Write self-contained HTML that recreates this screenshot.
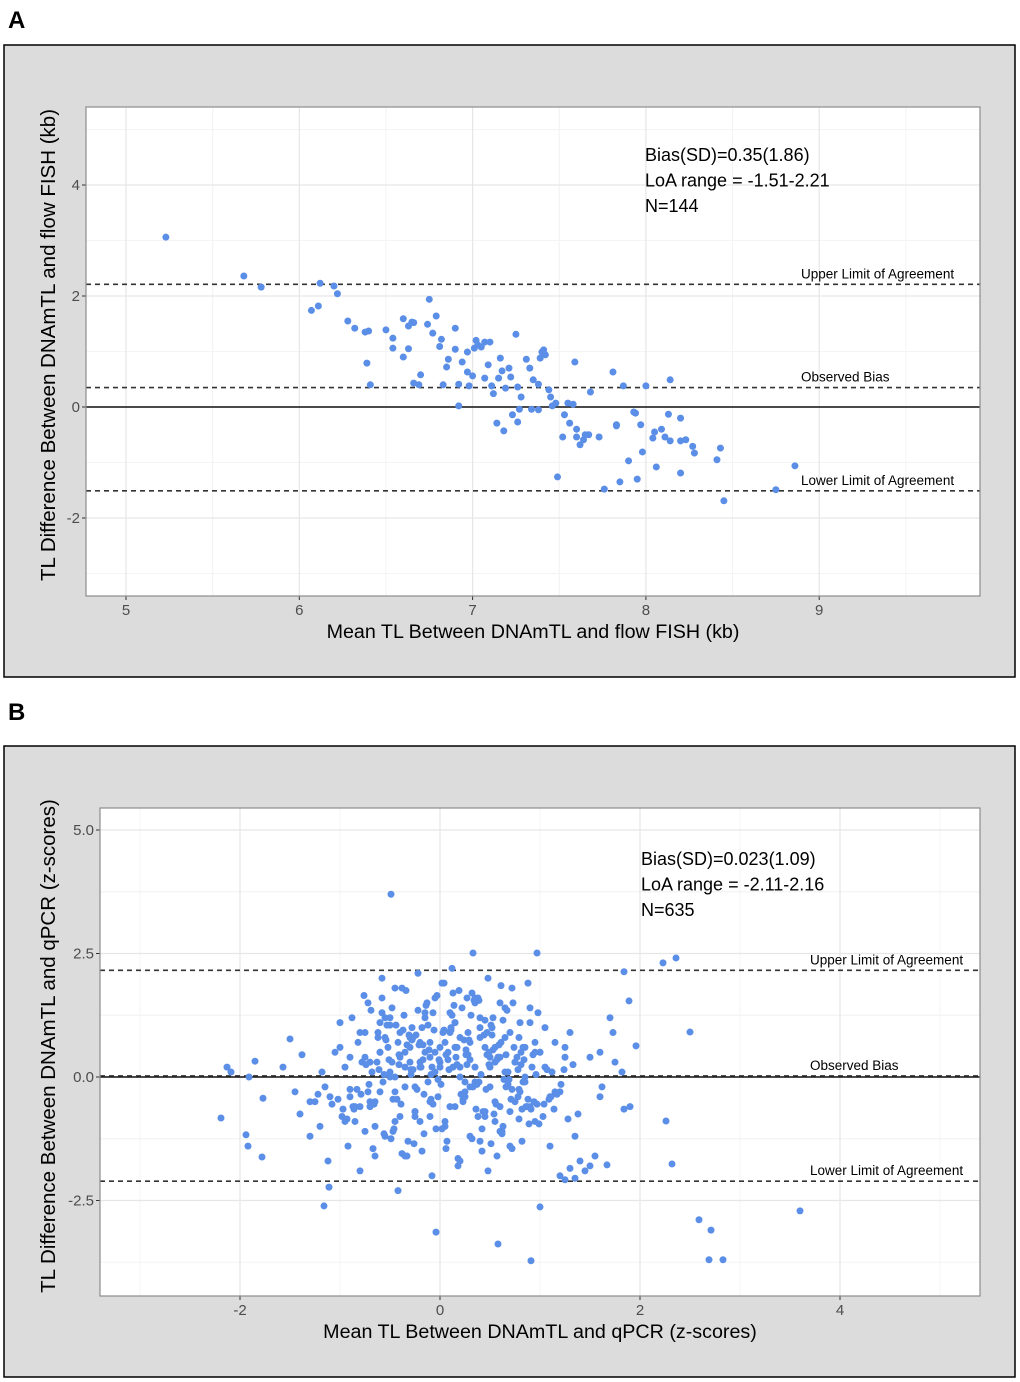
<!DOCTYPE html>
<html><head><meta charset="utf-8">
<style>
body{margin:0;background:#fff;width:1020px;height:1382px;overflow:hidden;font-family:"Liberation Sans",Arial,sans-serif}
svg{position:absolute;left:0;top:0}
</style></head>
<body>
<svg id="chart" width="1020" height="1382"></svg>
<script>
// ---------- Panel A data ----------
const aXTicks=[5,6,7,8,9];
const aYTicks=[-2,0,2,4];
const aBias=0.35, aUpper=2.21, aLower=-1.51;
const aX=[5.23,5.68,5.78,6.07,6.11,6.12,6.2,6.22,6.28,6.32,6.38,6.4,6.39,6.41,6.5,6.54,6.54,6.6,6.6,6.63,6.63,6.65,6.66,6.66,6.69,6.7,6.74,6.75,6.77,6.79,6.81,6.82,6.83,6.85,6.86,6.9,6.9,6.92,6.92,6.94,6.97,6.97,6.98,7.0,7.01,7.02,7.03,7.05,7.07,7.07,7.09,7.1,7.11,7.12,7.14,7.15,7.16,7.17,7.18,7.19,7.21,7.22,7.23,7.25,7.26,7.26,7.27,7.28,7.31,7.33,7.34,7.35,7.38,7.38,7.39,7.4,7.41,7.42,7.44,7.45,7.46,7.48,7.49,7.52,7.53,7.55,7.56,7.58,7.59,7.6,7.6,7.62,7.64,7.65,7.67,7.68,7.73,7.76,7.81,7.83,7.83,7.85,7.87,7.9,7.93,7.94,7.95,7.97,7.98,8.0,8.04,8.05,8.06,8.09,8.11,8.13,8.14,8.14,8.2,8.2,8.2,8.23,8.27,8.28,8.41,8.43,8.45,8.75,8.86];
const aY=[3.06,2.36,2.16,1.74,1.82,2.23,2.18,2.04,1.55,1.42,1.35,1.37,0.79,0.4,1.39,1.24,1.06,0.9,1.59,1.46,1.05,1.53,1.52,0.43,0.4,0.58,1.49,1.94,1.33,1.64,1.09,1.22,0.4,0.72,0.86,1.42,1.04,0.02,0.41,0.81,0.63,0.99,0.38,0.56,1.06,1.2,1.12,1.08,0.52,1.17,0.76,1.17,0.38,0.24,-0.29,0.52,0.88,0.65,-0.43,0.34,0.7,0.54,-0.14,1.31,-0.27,0.36,-0.04,0.18,0.86,0.7,-0.04,0.49,0.41,-0.05,0.88,0.99,1.03,0.94,0.31,0.18,0.02,0.07,-1.26,-0.54,-0.14,0.07,-0.29,0.05,0.81,-0.54,-0.4,-0.68,-0.59,-0.5,-0.5,0.27,-0.54,-1.48,0.63,-0.34,-0.32,-1.35,0.38,-0.97,-0.09,-0.11,-1.3,-0.32,-0.81,0.38,-0.56,-0.45,-1.08,-0.4,-0.54,-0.13,0.49,-0.61,-0.61,-0.2,-1.19,-0.59,-0.71,-0.83,-0.95,-0.74,-1.69,-1.49,-1.06];
// ---------- Panel B data ----------
const bXTicks=[-2,0,2,4];
const bYTicks=[-2.5,0,2.5,5];
const bBias=0.023, bUpper=2.16, bLower=-2.11;
const bX=[-0.49,-2.19,-2.13,-2.09,-1.94,-1.92,-1.85,-1.78,-1.77,-1.91,-1.57,-1.5,-1.16,-1.11,-0.04,0.58,0.91,1.0,0.33,0.97,2.23,2.36,2.5,2.26,2.32,2.59,2.69,2.71,2.83,3.6,1.82,1.84,1.9,1.96,1.89,1.84,1.73,1.67,1.55,1.2,1.3,1.4,1.45,1.5,1.25,1.35,1.6,1.7,1.75,1.62,
-1.45,-1.4,-1.38,-1.3,-1.25,-1.2,-1.18,-1.12,-1.1,-1.05,-1.0,-0.98,-0.95,-0.92,-0.9,-0.88,-0.85,-0.82,-0.8,-0.78,-0.75,-0.72,-0.7,-0.68,-0.65,-0.62,-0.6,-0.58,-0.55,-0.52,-0.5,-0.48,-0.45,-0.42,-0.4,-0.38,-0.35,-0.32,-0.3,-0.28,-0.25,-0.22,-0.2,-0.18,-0.15,-0.12,-0.1,-0.08,-0.05,-0.02,0.0,0.02,0.05,0.08,0.1,0.12,0.15,0.18,0.2,0.22,0.25,0.28,0.3,0.32,0.35,0.38,0.4,0.42,0.45,0.48,0.5,0.52,0.55,0.58,0.6,0.62,0.65,0.68,0.7,0.72,0.75,0.78,0.8,0.82,0.85,0.88,0.9,0.92,0.95,0.98,1.0,1.05,1.1,1.15,1.2,1.25,1.3,
-1.0,-0.9,-0.8,-0.7,-0.6,-0.5,-0.4,-0.3,-0.2,-0.1,0.0,0.1,0.2,0.3,0.4,0.5,0.6,0.7,0.8,0.9,1.0,1.1,-0.85,-0.75,-0.65,-0.55,-0.45,-0.35,-0.25,-0.15,-0.05,0.05,0.15,0.25,0.35,0.45,0.55,0.65,0.75,0.85,0.95,
-0.95,-0.72,-0.63,-0.42,-0.33,-0.18,-0.08,0.07,0.17,0.27,0.43,0.53,0.63,0.77,0.87,1.03,-0.58,-0.27,0.13,0.33,0.57,0.73,-0.87,-0.47,-0.13,0.03,0.23,0.47,0.83,1.12,
-0.6,-0.4,-0.2,0.0,0.2,0.4,0.6,-0.5,-0.3,-0.1,0.1,0.3,0.5,-0.7,-0.45,-0.25,-0.05,0.15,0.35,0.55,0.75,-0.65,-0.35,-0.15,0.25,0.45,0.65,0.95,1.15,1.35,1.5,1.6,
-0.2,0.6,-0.35,0.48,-0.9,0.9,-1.15,1.25,-0.55,0.15,-0.75,0.7,-0.1,0.4,-0.6,0.2,1.05,-1.3,-0.25,0.85,0.05,-0.45,0.55,-0.8,0.35,
-0.62,-0.57,-0.51,-0.44,-0.39,-0.33,-0.27,-0.22,-0.16,-0.11,-0.06,0.01,0.06,0.12,0.17,0.23,0.29,0.34,0.41,0.46,0.52,0.57,0.63,0.69,0.74,0.81,0.86,0.93,
-0.61,-0.54,-0.47,-0.41,-0.36,-0.29,-0.23,-0.17,-0.12,-0.07,-0.01,0.04,0.09,0.14,0.21,0.26,0.31,0.37,0.44,0.49,0.54,0.61,0.66,0.71,0.78,0.84,0.91,0.97,
-0.76,-0.69,-0.53,-0.46,-0.37,-0.24,-0.14,-0.03,0.08,0.19,0.28,0.39,0.51,0.59,0.67,0.79,0.89,1.07,1.17,1.28,
-0.74,-0.66,-0.56,-0.43,-0.31,-0.21,-0.09,0.02,0.11,0.24,0.36,0.47,0.56,0.68,0.79,0.88,0.99,1.09,1.21,1.33,
-1.02,-0.93,-0.86,-0.79,-0.67,-0.49,-0.38,-0.26,-0.16,-0.04,0.06,0.18,0.32,0.42,0.51,0.62,0.72,0.82,0.94,1.04,1.14,
-0.58,-0.48,-0.34,-0.19,-0.07,0.04,0.16,0.27,0.38,0.49,0.61,0.72,0.83,-0.5,-0.28,-0.09,0.11,0.3,0.45,0.64,0.79,
-1.22,-1.08,-0.97,-0.83,-0.71,-0.56,-0.41,-0.29,-0.17,-0.02,0.13,0.26,0.39,0.53,0.66,0.81,0.96,1.11,1.24,1.38];
const bY=[3.7,-0.83,0.2,0.1,-1.17,-1.4,0.32,-1.62,-0.43,0.0,0.2,0.77,-2.61,-2.23,-3.14,-3.38,-3.72,-2.63,2.51,2.51,2.31,2.41,0.91,-0.89,-1.76,-2.89,-3.7,-3.1,-3.7,-2.71,0.1,-0.65,-0.6,0.63,1.54,2.13,0.9,-1.78,-1.6,-2.0,-1.85,-1.7,-1.9,-1.8,-2.08,-2.05,0.5,1.2,0.3,-0.2,
-0.3,-0.75,0.45,-1.2,-0.5,-1.0,0.1,-1.7,-0.4,0.5,1.1,-0.8,0.2,-1.4,-0.25,1.2,-0.6,0.7,-1.9,0.3,-1.1,1.5,-0.5,0.1,-1.6,0.9,-0.3,2.0,-1.2,0.6,0.0,1.4,-0.9,-2.3,0.4,1.8,-0.2,-1.3,0.8,1.0,-0.7,2.1,0.2,-1.5,1.3,-0.1,0.7,-2.0,1.6,-0.4,0.3,1.9,-1.0,0.5,-0.6,2.2,1.1,-1.8,0.0,1.4,-0.3,0.9,-1.2,1.7,0.2,-0.8,1.2,-1.5,0.6,2.0,-0.2,1.0,-0.5,0.4,1.5,-1.1,0.8,0.1,-0.7,1.8,0.3,-0.4,1.1,-1.3,0.6,1.9,-0.6,0.2,-0.9,1.3,0.5,1.0,-1.4,0.7,-0.3,0.4,0.9,
0.6,-0.4,0.9,-0.6,0.5,1.2,-0.8,0.3,0.7,-0.5,0.2,1.3,0.8,-0.2,1.0,0.4,-0.6,0.9,-0.3,1.1,0.5,-0.4,-0.9,0.4,-1.0,0.8,-0.3,0.2,-0.7,0.5,0.1,-0.9,0.6,-0.1,1.5,-0.8,0.3,1.4,-0.5,0.0,0.7,
-0.9,-0.3,0.3,0.7,-1.6,1.0,0.2,-1.3,0.6,1.6,-0.7,1.2,-1.0,0.4,-0.6,-0.8,1.3,0.8,1.7,-0.2,-1.6,1.5,-0.6,-1.1,1.5,0.9,-0.5,0.9,-0.1,0.1,
0.5,0.9,0.3,0.6,0.2,0.8,0.4,0.1,0.6,0.4,0.9,0.7,0.2,0.3,0.0,-0.2,0.5,1.1,-0.1,0.6,0.3,-0.5,0.5,1.2,-0.4,-0.7,0.1,0.5,-0.3,-1.2,0.4,-0.4,
-0.9,-1.1,-1.6,-1.9,0.4,1.4,-0.2,0.6,1.2,-0.6,0.9,-1.4,-0.8,-1.3,1.1,-1.7,0.2,-0.5,-0.8,-0.1,0.7,1.8,-0.9,-0.6,1.6,
0.8,-0.1,0.35,1.05,-0.55,0.65,0.15,1.35,-0.35,0.55,0.95,-0.15,0.45,1.25,0.25,-0.45,0.75,1.55,0.05,-0.25,0.85,0.35,1.15,-0.05,0.6,0.25,-0.6,0.45,
0.15,0.75,-0.45,0.45,1.25,0.05,-0.25,0.65,1.05,-0.55,0.35,0.95,0.15,1.45,-0.35,0.55,1.25,-0.15,0.85,0.25,-0.75,0.7,0.45,-0.45,0.15,0.35,-0.65,-0.55,
1.65,1.35,1.05,-1.05,0.95,0.85,1.45,1.65,0.35,1.75,0.45,1.55,1.05,0.65,1.35,-0.25,-0.95,0.15,-0.35,-0.85,
0.25,-0.55,-1.15,-0.45,0.85,0.65,-0.45,-1.05,0.95,0.75,-0.65,0.45,-0.55,-0.15,-0.85,-0.45,-0.95,-0.45,-0.15,0.25,
-0.45,-0.85,-0.65,-0.35,-1.45,-1.25,-1.55,-1.35,-1.15,-1.05,-1.45,-1.65,-1.25,-1.05,-1.35,-1.15,-1.45,-0.65,-0.5,-0.55,-0.65,
1.6,0.3,1.75,0.2,1.3,1.9,0.4,0.25,1.6,0.5,1.85,-0.25,0.6,1.05,0.75,0.05,1.0,0.35,1.15,-0.05,0.8,
-0.35,-0.55,-0.65,-0.25,-0.15,0.05,0.25,0.15,0.35,-0.05,0.2,0.45,-0.1,0.55,-0.2,0.5,0.05,-0.4,0.15,-0.75,-0.45];

const NS='http://www.w3.org/2000/svg';
const svg=document.getElementById('chart');
function mk(tag,attrs,parent){const e=document.createElementNS(NS,tag);for(const k in attrs)e.setAttribute(k,attrs[k]);(parent||svg).appendChild(e);return e;}

function panel(o){
  const g=mk('g',{});
  
  
  const bg=mk('rect',{x:o.box[0],y:o.box[1],width:o.box[2],height:o.box[3],fill:'#dcdcdc',stroke:'#000','stroke-width':1.5},g);
  
  
  const lt=mk('text',{x:o.letter[0],y:o.letter[1],'font-size':24,'font-weight':'bold',fill:'#000'},g);
  lt.textContent=o.id.toUpperCase();
  
  
  const [L,T,R,B]=o.plot;
  const sx=v=>L+(v-o.xd[0])/(o.xd[1]-o.xd[0])*(R-L);
  const sy=v=>B-(v-o.yd[0])/(o.yd[1]-o.yd[0])*(B-T);
  mk('rect',{x:L,y:T,width:R-L,height:B-T,fill:'#fff'},g);
  for(let i=0;i<o.xt.length;i++){const step=o.xt[1]-o.xt[0];for(const v of [o.xt[i]-step/2,o.xt[i]+step/2]){if(v>o.xd[0]&&v<o.xd[1])mk('line',{x1:sx(v),x2:sx(v),y1:T,y2:B,stroke:'#f4f4f4','stroke-width':1},g);}}
  for(let i=0;i<o.yt.length;i++){const step=o.yt[1]-o.yt[0];for(const v of [o.yt[i]-step/2,o.yt[i]+step/2]){if(v>o.yd[0]&&v<o.yd[1])mk('line',{x1:L,x2:R,y1:sy(v),y2:sy(v),stroke:'#f4f4f4','stroke-width':1},g);}}
  o.xt.forEach(v=>{
    mk('line',{x1:sx(v),x2:sx(v),y1:T,y2:B,stroke:'#e6e6e6','stroke-width':1.2},g);
    mk('line',{x1:sx(v),x2:sx(v),y1:B,y2:B+4,stroke:'#333'},g);
    const t=mk('text',{x:sx(v),y:B+19,'font-size':15,fill:'#4d4d4d','text-anchor':'middle'},g);
    t.textContent=o.xl(v);
    
    
  });
  o.yt.forEach(v=>{
    mk('line',{x1:L,x2:R,y1:sy(v),y2:sy(v),stroke:'#e6e6e6','stroke-width':1.2},g);
    mk('line',{x1:L-4,x2:L,y1:sy(v),y2:sy(v),stroke:'#333'},g);
    const t=mk('text',{x:L-6,y:sy(v)+5,'font-size':15,fill:'#4d4d4d','text-anchor':'end'},g);
    t.textContent=o.yl(v);
    
    
  });
  const z=mk('line',{x1:L,x2:R,y1:sy(0),y2:sy(0),stroke:'#111','stroke-width':1.5},g);
  
  
  const refs=[[o.up,'Upper Limit of Agreement','upper-limit-line'],[o.bias,'Observed Bias','bias-line'],[o.lo,'Lower Limit of Agreement','lower-limit-line']];
  refs.forEach(r=>{
    const ln=mk('line',{x1:L,x2:R,y1:sy(r[0]),y2:sy(r[0]),stroke:'#333','stroke-width':1.6,'stroke-dasharray':'5,4'},g);
    
    
    const t=mk('text',{x:o.labX,y:sy(r[0])-6,'font-size':13.5,fill:'#000'},g);
    t.textContent=r[1];
    
    
  });
  o.xs.forEach((v,i)=>{
    const c=mk('circle',{cx:sx(v),cy:sy(o.ys[i]),r:3.5,fill:'#5b8ee6'},g);
    
    
  });
  mk('rect',{x:L,y:T,width:R-L,height:B-T,fill:'none',stroke:'#8c8c8c','stroke-width':1.2},g);
  o.ann.forEach((s,i)=>{
    const t=mk('text',{x:o.annX,y:o.annY+i*25.5,'font-size':18,fill:'#000'},g);
    t.textContent=s;
    
    
  });
  const xt=mk('text',{x:(L+R)/2,y:B+42,'font-size':19.7,fill:'#000','text-anchor':'middle'},g);
  xt.textContent=o.xtitle;
  
  
  const yt=mk('text',{x:0,y:0,'font-size':20.5,fill:'#000','text-anchor':'middle',transform:`translate(${o.ytx},${o.ytc}) rotate(-90)`},g);
  yt.textContent=o.ytitle;
  
  
}

panel({id:'a',box:[4,45,1011,632],letter:[8,28],plot:[86,107,980,596],
  xd:[5+(86-126)/173.3,5+(980-126)/173.3],yd:[(407-596)/55.5,(407-107)/55.5],
  xt:aXTicks,yt:aYTicks,xl:v=>String(v),yl:v=>String(v),
  up:aUpper,bias:aBias,lo:aLower,labX:801,xs:aX,ys:aY,
  ann:['Bias(SD)=0.35(1.86)','LoA range = -1.51-2.21','N=144'],annX:645,annY:161,
  xtitle:'Mean TL Between DNAmTL and flow FISH (kb)',ytitle:'TL Difference Between DNAmTL and flow FISH (kb)',ytx:55,ytc:345});

panel({id:'b',box:[4,746,1011,631],letter:[8,720],plot:[100,808,980,1296],
  xd:[-3.4,5.4],yd:[(1077-1296)/49.4,(1077-808)/49.4],
  xt:bXTicks,yt:bYTicks,xl:v=>String(v),yl:v=>v.toFixed(1),
  up:bUpper,bias:bBias,lo:bLower,labX:810,xs:bX,ys:bY,
  ann:['Bias(SD)=0.023(1.09)','LoA range = -2.11-2.16','N=635'],annX:641,annY:865,
  xtitle:'Mean TL Between DNAmTL and qPCR (z-scores)',ytitle:'TL Difference Between DNAmTL and qPCR (z-scores)',ytx:55,ytc:1046});
</script>
</body></html>
